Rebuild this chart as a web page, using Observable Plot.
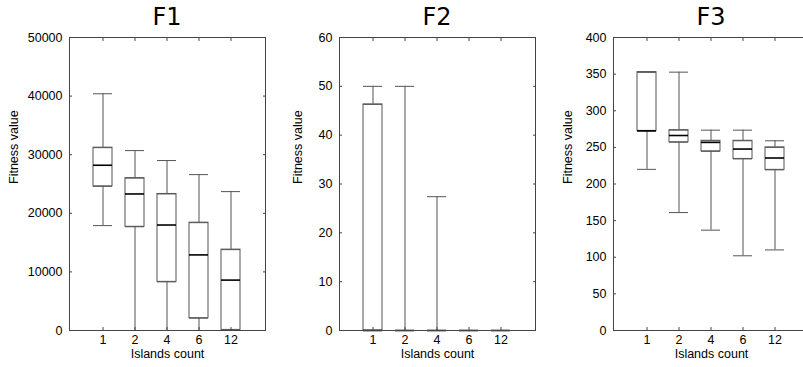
<!DOCTYPE html>
<html>
<head>
<meta charset="utf-8">
<script src="https://cdn.jsdelivr.net/npm/d3@7"></script>
<script src="https://cdn.jsdelivr.net/npm/@observablehq/plot@0.6"></script>
<style>
  html, body { margin: 0; padding: 0; background: #fff; }
  body { width: 803px; height: 367px; overflow: hidden; position: relative; }
  .panel { position: absolute; top: 0; width: 270px; height: 367px; }
  .panel svg { position: absolute; left: 0; top: 0; }
  .title { position: absolute; top: 5px; left: 69px; width: 196px; text-align: center;
           font-family: "DejaVu Sans", sans-serif; font-size: 24px; line-height: 24px; color: #000; }
</style>
</head>
<body>
<script>
// ---- data ----
const categories = ["1", "2", "4", "6", "12"];
const titles = ["F1", "F2", "F3"];
const xLabel = "Islands count";
const yLabel = "Fitness value";

const f1Min    = [17900, 0, 0, 0, 0];
const f1Q1     = [24600, 17700, 8300, 2100, 100];
const f1Median = [28200, 23300, 18000, 12900, 8600];
const f1Q3     = [31200, 26000, 23300, 18400, 13800];
const f1Max    = [40400, 30700, 29000, 26600, 23700];
const f1Ticks  = [0, 10000, 20000, 30000, 40000, 50000];

const f2Min    = [0, 0, 0, 0, 0];
const f2Q1     = [0, 0, 0, 0, 0];
const f2Median = [0, 0, 0, 0, 0];
const f2Q3     = [46.3, 0, 0, 0, 0];
const f2Max    = [50, 50, 27.4, 0, 0];
const f2Ticks  = [0, 10, 20, 30, 40, 50, 60];

const f3Min    = [220, 161, 137, 102, 110];
const f3Q1     = [272.5, 257, 244.6, 234.2, 219.3];
const f3Median = [272.5, 266.2, 256.8, 247.7, 235.5];
const f3Q3     = [352.7, 273.5, 259, 259, 250];
const f3Max    = [352.7, 352.7, 273.5, 273.5, 259];
const f3Ticks  = [0, 50, 100, 150, 200, 250, 300, 350, 400];

const panels = [
  {title: titles[0], min: f1Min, q1: f1Q1, med: f1Median, q3: f1Q3, max: f1Max, ticks: f1Ticks, left: 0,   ylx: -56},
  {title: titles[1], min: f2Min, q1: f2Q1, med: f2Median, q3: f2Q3, max: f2Max, ticks: f2Ticks, left: 270, ylx: -42},
  {title: titles[2], min: f3Min, q1: f3Q1, med: f3Median, q3: f3Q3, max: f3Max, ticks: f3Ticks, left: 544, ylx: -46}
];

const LINE = "#555";

for (const p of panels) {
  const table = categories.map((c, i) => ({
    cat: c, min: p.min[i], q1: p.q1[i], med: p.med[i], q3: p.q3[i], max: p.max[i]
  }));
  const yDomain = [p.ticks[0], p.ticks[p.ticks.length - 1]];
  const chart = Plot.plot({
    width: 270,
    height: 367,
    marginLeft: 69,
    marginRight: 5,
    marginTop: 37,
    marginBottom: 37,
    style: {fontFamily: "'Liberation Sans', Arial, sans-serif", fontSize: "12.5px", color: "#000", background: "transparent"},
    x: {type: "band", domain: categories, paddingInner: 0.4, paddingOuter: 0.7},
    y: {domain: yDomain},
    marks: [
      Plot.ruleX(table, {x: "cat", y1: "min", y2: "q1", stroke: LINE}),
      Plot.ruleX(table, {x: "cat", y1: "q3", y2: "max", stroke: LINE}),
      Plot.barY(table, {x: "cat", y1: "q1", y2: "q3", fill: "white", stroke: LINE}),
      Plot.tickY(table, {x: "cat", y: "min", stroke: LINE}),
      Plot.tickY(table, {x: "cat", y: "max", stroke: LINE}),
      Plot.tickY(table, {x: "cat", y: "q1", stroke: LINE}),
      Plot.tickY(table, {x: "cat", y: "q3", stroke: LINE}),
      Plot.tickY(table, {x: "cat", y: "med", stroke: "#000", strokeWidth: 1.6}),
      Plot.frame({stroke: "#444"}),
      Plot.axisY({ticks: p.ticks, tickSize: 0, tickPadding: 7, tickFormat: d => String(d), label: null}),
      Plot.axisY({ticks: p.ticks, tickSize: -3, tickFormat: () => "", label: null, stroke: "#444"}),
      Plot.axisY({anchor: "right", ticks: p.ticks, tickSize: -3, tickFormat: () => "", label: null, stroke: "#444"}),
      Plot.axisX({tickSize: 0, tickPadding: 5, label: null}),
      Plot.axisX({tickSize: -3, tickFormat: () => "", label: null, stroke: "#444"}),
      Plot.axisX({anchor: "top", tickSize: -3, tickFormat: () => "", label: null, stroke: "#444"}),
      Plot.text([xLabel], {frameAnchor: "bottom", dy: 27, text: d => d, fill: "#000"}),
      Plot.text([yLabel], {frameAnchor: "left", dx: p.ylx, rotate: -90, text: d => d, fill: "#000"})
    ]
  });
  const div = document.createElement("div");
  div.className = "panel";
  div.style.left = p.left + "px";
  div.appendChild(chart);
  const t = document.createElement("div");
  t.className = "title";
  t.textContent = p.title;
  div.appendChild(t);
  document.body.appendChild(div);
}
</script>
</body>
</html>
